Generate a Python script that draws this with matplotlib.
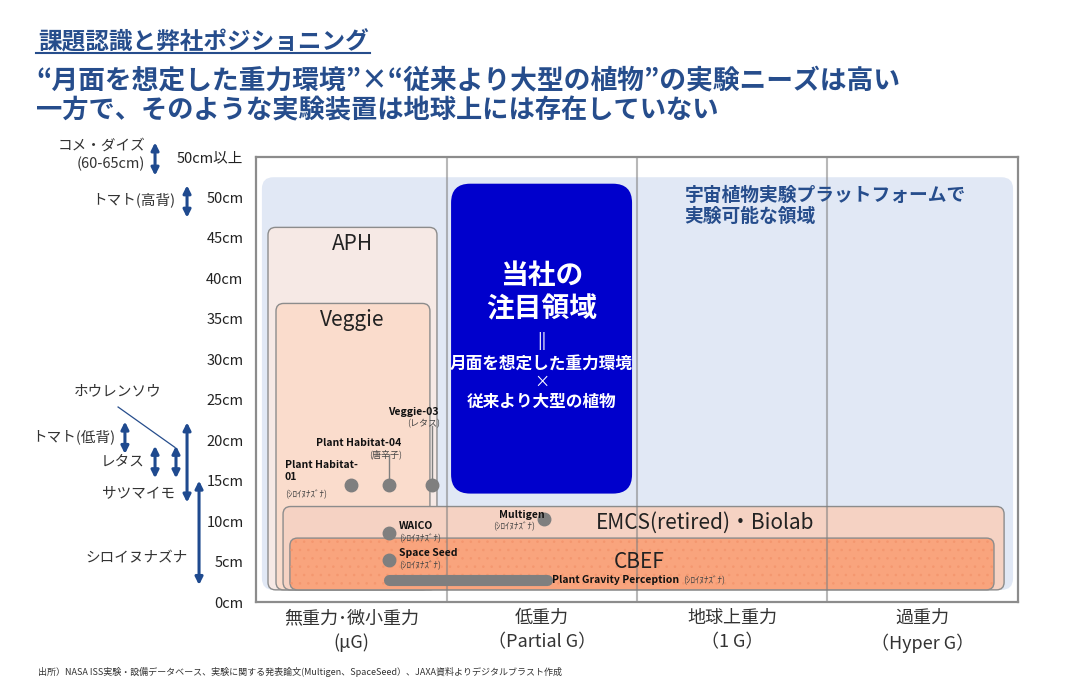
"""
Positioning chart: plant experiment facilities by gravity level and plant height.
"""

import matplotlib
matplotlib.use("Agg")
import matplotlib.pyplot as plt
from matplotlib.patches import FancyBboxPatch
from matplotlib.lines import Line2D

plt.rcParams["font.family"] = ["Noto Sans CJK JP", "DejaVu Sans"]
plt.rcParams["hatch.linewidth"] = 0.6

NAVY = "#264D8C"
ARROW = "#1F4A8F"
GREY_DOT = "#7F7F7F"

# --- data -------------------------------------------------------------
height_ticks = [0, 5, 10, 15, 20, 25, 30, 35, 40, 45, 50, 55]
height_labels = ["0cm", "5cm", "10cm", "15cm", "20cm", "25cm", "30cm",
                 "35cm", "40cm", "45cm", "50cm", "50cm以上"]

gravity_labels = ["無重力･微小重力\n(μG)", "低重力\n（Partial G）",
                  "地球上重力\n（1 G）", "過重力\n（Hyper G）"]

# facilities: gravity range (x) and usable height range (cm)
facility_names = ["APH", "Veggie", "EMCS(retired)・Biolab", "CBEF"]
facility_x0 = [0.063, 0.105, 0.142, 0.178]
facility_x1 = [0.950, 0.913, 3.927, 3.874]
facility_y0 = [1.5, 1.5, 1.5, 1.5]
facility_y1 = [46.3, 36.9, 11.8, 7.9]
facility_colors = ["#F6E9E5", "#FADCCC", "#F5D2C3", "#F9A47D"]

platform_x = [0.031, 3.974]
platform_y = [1.5, 52.5]

focus_x = [1.024, 1.974]
focus_y = [13.4, 51.7]

# experiments: gravity position and plant height (cm)
exp_names = ["Plant Habitat-\n01", "Plant Habitat-04", "Veggie-03",
             "WAICO", "Space Seed", "Multigen"]
exp_plants = ["(ｼﾛｲﾇﾅｽﾞﾅ)", "(唐辛子)", "(レタス)",
              "(ｼﾛｲﾇﾅｽﾞﾅ)", "(ｼﾛｲﾇﾅｽﾞﾅ)", "(ｼﾛｲﾇﾅｽﾞﾅ)"]
exp_x = [0.50, 0.70, 0.925, 0.70, 0.70, 1.51]
exp_y = [14.5, 14.5, 14.5, 8.5, 5.2, 10.3]

pgp_x = [0.70, 1.53]
pgp_y = 2.7

# typical plant heights (cm)
plant_names = ["コメ・ダイズ\n(60-65cm)", "トマト(高背)", "トマト(低背)",
               "レタス", "ホウレンソウ", "サツマイモ", "シロイヌナズナ"]
plant_lo = [52.7, 47.5, 18.3, 15.3, 15.3, 12.3, 2.1]
plant_hi = [56.8, 51.5, 22.3, 19.3, 19.3, 22.2, 15.0]


# --- figure -----------------------------------------------------------
fig = plt.figure(figsize=(10.86, 6.91), dpi=100)
ax = fig.add_axes([256 / 1086, 1 - 602 / 691, 762 / 1086, 445 / 691])
ax.set_xlim(0, 4)
ax.set_ylim(0, 55)

ASP = (762 / 4) / (445 / 55)  # px per x unit / px per cm


def rbox(x0, x1, y0, y1, r, **kw):
    p = FancyBboxPatch((x0, y0), x1 - x0, y1 - y0,
                       boxstyle=f"round,pad=0,rounding_size={r}",
                       mutation_aspect=ASP, **kw)
    ax.add_patch(p)
    return p


# platform region
rbox(platform_x[0], platform_x[1], platform_y[0], platform_y[1], 0.06,
     facecolor="#E1E8F5", edgecolor="none", zorder=1)
ax.text(2.25, 51.4, "宇宙植物実験プラットフォームで\n実験可能な領域",
        color=NAVY, fontsize=13.5, fontweight="bold", ha="left", va="top",
        linespacing=1.12, zorder=8)

# facilities
for i, name in enumerate(facility_names):
    rbox(facility_x0[i], facility_x1[i], facility_y0[i], facility_y1[i], 0.04,
         facecolor=facility_colors[i], edgecolor="#8C8C8C", linewidth=1.0,
         zorder=2 + i)
rbox(facility_x0[3], facility_x1[3], facility_y0[3], facility_y1[3], 0.04,
     facecolor="none", edgecolor="#F4976F", linewidth=0, hatch="..",
     zorder=5.5)

ax.text(0.506, 44.3, facility_names[0], fontsize=15, ha="center", va="center",
        color="#222222", zorder=9)
ax.text(0.506, 34.8, facility_names[1], fontsize=15, ha="center", va="center",
        color="#222222", zorder=9)
ax.text(2.36, 9.8, facility_names[2], fontsize=15, ha="center", va="center",
        color="#222222", zorder=9)
ax.text(2.01, 4.95, facility_names[3], fontsize=15, ha="center", va="center",
        color="#222222", zorder=9)

# focus region
rbox(focus_x[0], focus_x[1], focus_y[0], focus_y[1], 0.1,
     facecolor="#0000CC", edgecolor="none", zorder=7)
fx = sum(focus_x) / 2
ax.text(fx, 38.2, "当社の\n注目領域", color="white", fontsize=20,
        fontweight="bold", ha="center", va="center", linespacing=1.25,
        zorder=8)
ax.text(fx, 32.3, "||", color="white", fontsize=12, ha="center",
        va="center", zorder=8)
ax.text(fx, 29.5, "月面を想定した重力環境", color="white", fontsize=12,
        fontweight="bold", ha="center", va="center", zorder=8)
ax.text(fx, 27.1, "×", color="white", fontsize=11, ha="center",
        va="center", zorder=8)
ax.text(fx, 24.75, "従来より大型の植物", color="white", fontsize=12,
        fontweight="bold", ha="center", va="center", zorder=8)

# gravity column separators
for xv in [1, 2, 3]:
    ax.axvline(xv, color="#7F7F7F", linewidth=1.5, alpha=0.55, zorder=6)

# experiments
ax.plot([exp_x[1], exp_x[1]], [exp_y[1], 18.2], color="#7F7F7F",
        linewidth=1, zorder=9)
ax.plot([exp_x[2], exp_x[2]], [exp_y[2], 21.8], color="#7F7F7F",
        linewidth=1, zorder=9)
ax.plot(exp_x, exp_y, "o", color=GREY_DOT, markersize=9, zorder=10,
        linestyle="none")
ax.plot(pgp_x, [pgp_y, pgp_y], color=GREY_DOT, linewidth=8,
        solid_capstyle="round", zorder=10)

lab = dict(fontsize=7.5, fontweight="bold", color="#111111", zorder=11)
sub = dict(fontsize=6.5, color="#444444", zorder=11)
# Plant Habitat-01
ax.text(0.152, 16.2, exp_names[0], ha="left", va="center",
        linespacing=1.3, **lab)
ax.text(0.152, 13.3, exp_plants[0], ha="left", va="center", **sub)
# Plant Habitat-04
ax.text(0.76, 19.7, exp_names[1], ha="right", va="center", **lab)
ax.text(0.68, 18.3, exp_plants[1], ha="center", va="center", **sub)
# Veggie-03
ax.text(0.96, 23.5, exp_names[2], ha="right", va="center", **lab)
ax.text(0.88, 22.0, exp_plants[2], ha="center", va="center", **sub)
# WAICO
ax.text(0.75, 9.4, exp_names[3], ha="left", va="center", **lab)
ax.text(0.75, 7.9, exp_plants[3], ha="left", va="center", **sub)
# Space Seed
ax.text(0.75, 6.05, exp_names[4], ha="left", va="center", **lab)
ax.text(0.75, 4.55, exp_plants[4], ha="left", va="center", **sub)
# Multigen
ax.text(1.275, 10.7, exp_names[5], ha="left", va="center", **lab)
ax.text(1.247, 9.35, exp_plants[5], ha="left", va="center", **sub)
# Plant Gravity Perception
ax.text(1.555, pgp_y, "Plant Gravity Perception", ha="left", va="center",
        **lab)
ax.text(2.24, pgp_y, exp_plants[0], ha="left", va="center", **sub)

# plant height arrows (left of the axis)
arrow_x = [-0.530, -0.362, -0.688, -0.530, -0.420, -0.362, -0.299]
label_pos = [(-0.582, 55.2, "right"), (-0.425, 49.75, "right"),
             (-0.740, 20.4, "right"), (-0.582, 17.3, "right"),
             (-0.724, 26.0, "center"), (-0.425, 13.5, "right"),
             (-0.357, 5.45, "right")]
for i, name in enumerate(plant_names):
    ax.annotate("", xy=(arrow_x[i], plant_hi[i]),
                xytext=(arrow_x[i], plant_lo[i]),
                arrowprops=dict(arrowstyle="<|-|>", color=ARROW, lw=2.2,
                                mutation_scale=11, shrinkA=0, shrinkB=0),
                annotation_clip=False)
    lx, ly, ha = label_pos[i]
    ax.text(lx, ly, name, ha=ha, va="center", multialignment="right",
            fontsize=10.5, color="#333333", clip_on=False, linespacing=1.35)
ax.plot([-0.724, -0.425], [24.1, 19.1], color=NAVY, linewidth=0.9,
        clip_on=False)

# axes styling
ax.set_yticks(height_ticks)
ax.set_yticklabels(height_labels, fontsize=10.5, color="#222222")
ax.set_xticks([0.5, 1.5, 2.5, 3.5])
ax.set_xticklabels(gravity_labels, fontsize=13, color="#333333",
                   linespacing=1.45)
ax.tick_params(axis="both", length=0)
ax.tick_params(axis="y", pad=9)
ax.tick_params(axis="x", pad=5)
for s in ax.spines.values():
    s.set_color("#8C8C8C")
    s.set_linewidth(1.6)
    s.set_zorder(12)

# headings
fig.text(38 / 1086, 1 - 42 / 691, "課題認識と弊社ポジショニング",
         fontsize=17, fontweight="bold", color=NAVY, ha="left", va="center")
fig.add_artist(Line2D([36 / 1086, 370 / 1086], [1 - 53 / 691] * 2,
                      color=NAVY, linewidth=1.5))
fig.text(36 / 1086, 1 - 80 / 691,
         "“月面を想定した重力環境”×“従来より大型の植物”の実験ニーズは高い",
         fontsize=19.3, fontweight="bold", color=NAVY, ha="left", va="center")
fig.text(36 / 1086, 1 - 111 / 691,
         "一方で、そのような実験装置は地球上には存在していない",
         fontsize=18.9, fontweight="bold", color=NAVY, ha="left", va="center")

fig.text(38 / 1086, 1 - 672 / 691,
         "出所）NASA ISS実験・設備データベース、実験に関する発表論文(Multigen、SpaceSeed）、"
         "JAXA資料よりデジタルブラスト作成",
         fontsize=6.5, color="#333333", ha="left", va="center")

plt.savefig("out.png", dpi=100)
plt.close()
